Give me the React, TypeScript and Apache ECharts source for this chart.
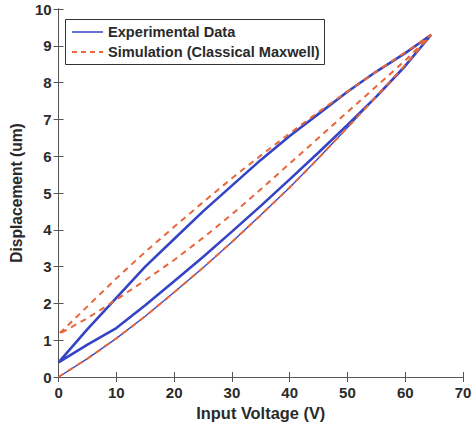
import React, { useEffect, useRef } from "react";
import * as echarts from "echarts";

// Voltage samples (V)
const voltAsc = [0, 5, 10, 15, 20, 25, 30, 35, 40, 45, 50, 55, 60, 64.5];
const voltDesc = [64.5, 60, 55, 50, 45, 40, 35, 30, 25, 20, 15, 10, 5, 0];

// Experimental data (um)
const expFirstRise = [0, 0.5, 1.05, 1.65, 2.3, 2.97, 3.67, 4.4, 5.15, 5.95, 6.78, 7.62, 8.48, 9.3];
const expFall = [9.3, 8.8, 8.3, 7.75, 7.15, 6.55, 5.9, 5.2, 4.5, 3.75, 3.0, 2.15, 1.3, 0.4];
const expRise = [0.4, 0.88, 1.33, 1.95, 2.6, 3.26, 3.95, 4.65, 5.37, 6.1, 6.85, 7.62, 8.45, 9.3];

// Simulation (Classical Maxwell) (um)
const simFirstRise = [0, 0.5, 1.05, 1.65, 2.3, 2.97, 3.67, 4.4, 5.15, 5.95, 6.78, 7.62, 8.48, 9.3];
const simFall = [9.3, 8.82, 8.3, 7.76, 7.2, 6.62, 6.02, 5.4, 4.75, 4.08, 3.4, 2.68, 1.92, 1.16];
const simRise = [1.16, 1.6, 2.1, 2.63, 3.18, 3.78, 4.42, 5.1, 5.8, 6.5, 7.2, 7.9, 8.6, 9.3];

const xTicks = [0, 10, 20, 30, 40, 50, 60, 70];
const yTicks = [0, 1, 2, 3, 4, 5, 6, 7, 8, 9, 10];
const legendNames = ["Experimental Data", "Simulation (Classical Maxwell)"];

const BLUE = "#3444c4";
const ORANGE = "#e8663a";
const FONT = "Liberation Sans, Arial, sans-serif";
const TXT = "#2a2a2a";

const pairs = (xs: number[], ys: number[]) => xs.map((x, i) => [x, ys[i]]);

export default function App() {
  const ref = useRef<HTMLDivElement>(null);
  useEffect(() => {
    if (!ref.current) return;
    const chart = echarts.init(ref.current, null, { renderer: "svg" });
    const axisCommon = {
      type: "value" as const,
      axisLine: { show: true, lineStyle: { color: "#555", width: 1 } },
      axisTick: { show: true, inside: true, length: 5, lineStyle: { color: "#555" } },
      splitLine: { show: false },
    };
    const legendText = {
      fontFamily: FONT,
      fontSize: 14.6,
      fontWeight: "bold",
      fill: TXT,
      verticalAlign: "middle",
      align: "left",
    };
    chart.setOption({
      animation: false,
      backgroundColor: "#fff",
      grid: { left: 56, right: 13, top: 9, bottom: 52 },
      graphic: [
        {
          type: "group",
          z: 100,
          children: [
            { type: "rect", shape: { x: 65.5, y: 19.5, width: 259, height: 45 }, style: { fill: "#fff", stroke: "#333", lineWidth: 1 } },
            { type: "line", shape: { x1: 72, y1: 32, x2: 103, y2: 32 }, style: { stroke: BLUE, lineWidth: 1.5 } },
            { type: "text", x: 108, y: 32, style: { ...legendText, text: legendNames[0] } },
            { type: "line", shape: { x1: 72, y1: 52, x2: 103, y2: 52 }, style: { stroke: ORANGE, lineWidth: 2, lineDash: [5, 4] } },
            { type: "text", x: 108, y: 52, style: { ...legendText, text: legendNames[1] } },
          ],
        },
      ],
      xAxis: [
        {
          ...axisCommon,
          min: 0,
          max: 70,
          interval: 10,
          position: "bottom",
          axisLabel: {
            margin: 8,
            fontFamily: FONT,
            fontSize: 15,
            fontWeight: "bold",
            color: TXT,
            formatter: (v: number) => (xTicks.includes(v) ? String(v) : ""),
          },
          name: "Input Voltage (V)",
          nameLocation: "middle",
          nameGap: 28,
          nameTextStyle: { fontFamily: FONT, fontSize: 16.4, fontWeight: "bold", color: TXT, verticalAlign: "top" },
        },
        {
          ...axisCommon,
          min: 0,
          max: 70,
          interval: 10,
          position: "top",
          axisLabel: { show: false },
        },
      ],
      yAxis: [
        {
          ...axisCommon,
          min: 0,
          max: 10,
          interval: 1,
          position: "left",
          axisLabel: {
            margin: 7,
            fontFamily: FONT,
            fontSize: 15,
            fontWeight: "bold",
            color: TXT,
            formatter: (v: number) => (yTicks.includes(v) ? String(v) : ""),
          },
          name: "Displacement (um)",
          nameLocation: "middle",
          nameGap: 29,
          nameTextStyle: { fontFamily: FONT, fontSize: 15.6, fontWeight: "bold", color: TXT },
        },
        {
          ...axisCommon,
          min: 0,
          max: 10,
          interval: 1,
          position: "right",
          axisLabel: { show: false },
        },
      ],
      series: [
        {
          name: legendNames[0],
          type: "line",
          symbol: "none",
          lineStyle: { color: BLUE, width: 1.3 },
          itemStyle: { color: BLUE },
          data: pairs(voltAsc, expFirstRise),
        },
        {
          name: legendNames[0],
          type: "line",
          symbol: "none",
          lineStyle: { color: BLUE, width: 2.6 },
          itemStyle: { color: BLUE },
          data: [...pairs(voltDesc, expFall), ...pairs(voltAsc, expRise).slice(1)],
        },
        {
          name: legendNames[1],
          type: "line",
          symbol: "none",
          lineStyle: { color: ORANGE, width: 2, type: [6, 5] },
          itemStyle: { color: ORANGE },
          data: [
            ...pairs(voltAsc, simFirstRise),
            ...pairs(voltDesc, simFall).slice(1),
            ...pairs(voltAsc, simRise).slice(1),
          ],
        },
      ],
    });
    return () => chart.dispose();
  }, []);
  return <div ref={ref} style={{ width: 476, height: 429, position: "absolute", left: 0, top: 0 }} />;
}
